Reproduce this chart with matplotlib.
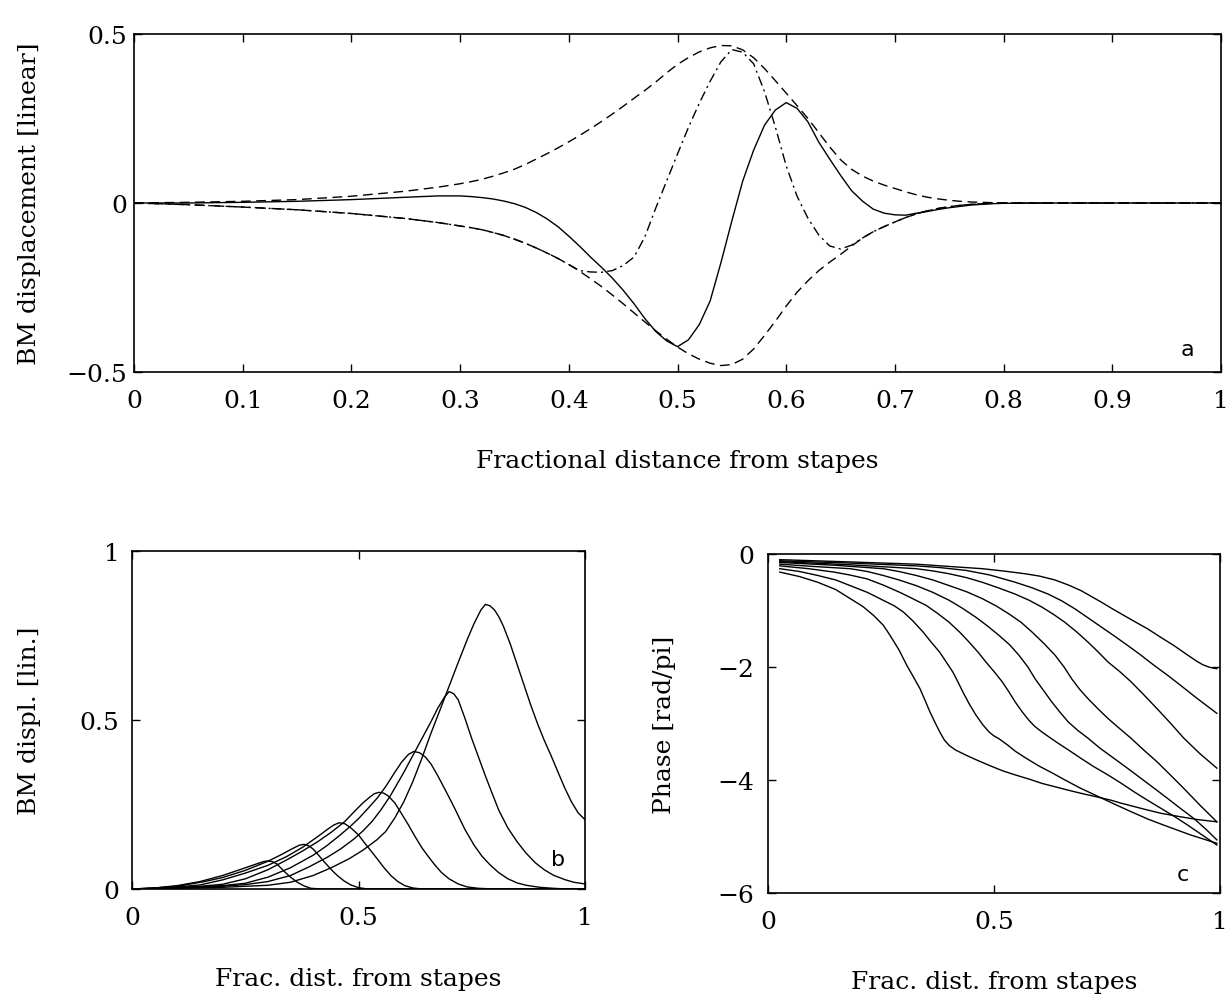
"""Basilar membrane displacement and phase, three-panel figure."""

import matplotlib
matplotlib.use("Agg")
import matplotlib.pyplot as plt

# ---------------- panel a: displacement snapshot -----------------
a_x = [0, 0.05, 0.1, 0.15, 0.2, 0.25, 0.28,
       0.3, 0.31, 0.32, 0.33, 0.34, 0.35, 0.36, 0.37, 0.38, 0.39,
       0.4, 0.41, 0.42, 0.43, 0.44, 0.45, 0.46, 0.47, 0.48, 0.49,
       0.5, 0.51, 0.52, 0.53, 0.54, 0.55, 0.56, 0.57, 0.58, 0.59,
       0.6, 0.61, 0.62, 0.63, 0.64, 0.65, 0.66, 0.67, 0.68, 0.69,
       0.7, 0.71, 0.72, 0.73, 0.74, 0.75, 0.76, 0.77, 0.78, 0.79,
       0.8, 0.85, 0.9, 1.0]
a_env_up = [0, 0.002, 0.005, 0.01, 0.02, 0.035, 0.047,
            0.057, 0.063, 0.07, 0.079, 0.089, 0.1, 0.114, 0.13, 0.146, 0.163,
            0.181, 0.2, 0.22, 0.241, 0.263, 0.286, 0.31, 0.333, 0.358, 0.385,
            0.41, 0.43, 0.447, 0.459, 0.466, 0.465, 0.453, 0.43, 0.398, 0.362,
            0.325, 0.288, 0.25, 0.208, 0.166, 0.128, 0.1, 0.08, 0.065, 0.053,
            0.043, 0.033, 0.024, 0.017, 0.012, 0.008, 0.005, 0.003, 0.002, 0.001,
            0, 0, 0, 0]
a_env_low = [0, -0.005, -0.012, -0.02, -0.031, -0.046, -0.058,
             -0.068, -0.073, -0.079, -0.087, -0.096, -0.107, -0.119, -0.133, -0.148, -0.164,
             -0.182, -0.202, -0.224, -0.247, -0.272, -0.298, -0.325, -0.352, -0.378, -0.403,
             -0.426, -0.446, -0.462, -0.474, -0.481, -0.478, -0.462, -0.432, -0.392, -0.35,
             -0.305, -0.264, -0.23, -0.2, -0.175, -0.152, -0.128, -0.104, -0.085, -0.07,
             -0.056, -0.043, -0.032, -0.023, -0.016, -0.011, -0.007, -0.004, -0.002, -0.001,
             0, 0, 0, 0]
a_solid = [0, 0.0, 0.002, 0.005, 0.01, 0.017, 0.021,
           0.021, 0.019, 0.016, 0.012, 0.006, -0.002, -0.013, -0.028, -0.047, -0.07,
           -0.098, -0.128, -0.16, -0.19, -0.222, -0.258, -0.298, -0.342, -0.38, -0.408,
           -0.425, -0.405, -0.36, -0.29, -0.176, -0.053, 0.065, 0.156, 0.23, 0.275,
           0.297, 0.28, 0.24, 0.18, 0.13, 0.082, 0.037, 0.006, -0.018, -0.03,
           -0.035, -0.036, -0.03, -0.025, -0.019, -0.014, -0.01, -0.006, -0.004, -0.002,
           -0.001, 0, 0, 0]
a_dashdot = [0, -0.005, -0.012, -0.02, -0.031, -0.046, -0.058,
             -0.068, -0.073, -0.079, -0.087, -0.096, -0.107, -0.119, -0.133, -0.148, -0.164,
             -0.182, -0.2, -0.204, -0.205, -0.2, -0.185, -0.16, -0.1, -0.015, 0.065,
             0.145, 0.223, 0.295, 0.36, 0.418, 0.454, 0.446, 0.412, 0.33, 0.225,
             0.11, 0.02, -0.045, -0.095, -0.127, -0.136, -0.125, -0.104, -0.085, -0.07,
             -0.056, -0.043, -0.032, -0.023, -0.016, -0.011, -0.007, -0.004, -0.002, -0.001,
             0, 0, 0, 0]

a_xticks = [0, 0.1, 0.2, 0.3, 0.4, 0.5, 0.6, 0.7, 0.8, 0.9, 1]
a_xticklabels = ["0", "0.1", "0.2", "0.3", "0.4", "0.5", "0.6", "0.7", "0.8", "0.9", "1"]
a_yticks = [-0.5, 0, 0.5]
a_yticklabels = ["\u22120.5", "0", "0.5"]

# ---------------- panel b: amplitude envelopes -----------------
b_x1 = [0, 0.1, 0.2, 0.25, 0.3, 0.35, 0.4, 0.44, 0.48, 0.51, 0.54, 0.56, 0.58,
        0.6, 0.62, 0.64, 0.66, 0.68, 0.7, 0.72, 0.74, 0.755, 0.77, 0.78, 0.79,
        0.8, 0.81, 0.82, 0.835, 0.85, 0.865, 0.88, 0.895, 0.91, 0.925, 0.94,
        0.955, 0.97, 0.985, 1.0]
b_y1 = [0, 0.002, 0.005, 0.008, 0.011, 0.02, 0.04, 0.063, 0.09, 0.115, 0.145,
        0.17, 0.21, 0.258, 0.318, 0.387, 0.461, 0.53, 0.6, 0.67, 0.738, 0.785,
        0.825, 0.842, 0.838, 0.826, 0.805, 0.777, 0.725, 0.665, 0.605, 0.545,
        0.49, 0.44, 0.395, 0.347, 0.3, 0.258, 0.225, 0.205]
b_x2 = [0, 0.1, 0.2, 0.25, 0.3, 0.35, 0.39, 0.43, 0.46, 0.49, 0.51, 0.53, 0.55,
        0.57, 0.585, 0.6, 0.62, 0.64, 0.66, 0.675, 0.69, 0.7, 0.71, 0.72, 0.735,
        0.75, 0.765, 0.78, 0.795, 0.81, 0.83, 0.85, 0.87, 0.89, 0.91, 0.93,
        0.955, 0.975, 1.0]
b_y2 = [0, 0.003, 0.008, 0.013, 0.022, 0.04, 0.065, 0.093, 0.118, 0.148, 0.172,
        0.2, 0.235, 0.275, 0.31, 0.345, 0.395, 0.445, 0.495, 0.535, 0.568, 0.584,
        0.578, 0.56, 0.505, 0.445, 0.39, 0.335, 0.283, 0.232, 0.18, 0.14, 0.106,
        0.078, 0.057, 0.041, 0.028, 0.02, 0.015]
b_x3 = [0, 0.1, 0.2, 0.25, 0.3, 0.35, 0.4, 0.43, 0.457, 0.48, 0.5, 0.52, 0.542,
        0.56, 0.58, 0.595, 0.61, 0.622, 0.635, 0.648, 0.66, 0.675, 0.69, 0.71,
        0.735, 0.755, 0.772, 0.79, 0.809, 0.83, 0.85, 0.87, 0.9, 0.93, 0.96, 1.0]
b_y3 = [0, 0.003, 0.01, 0.017, 0.035, 0.063, 0.1, 0.128, 0.157, 0.183, 0.208,
        0.237, 0.27, 0.303, 0.345, 0.375, 0.398, 0.407, 0.403, 0.39, 0.37, 0.335,
        0.297, 0.245, 0.176, 0.13, 0.098, 0.072, 0.049, 0.03, 0.018, 0.011,
        0.005, 0.002, 0, 0]
b_x4 = [0, 0.1, 0.15, 0.2, 0.25, 0.3, 0.34, 0.376, 0.41, 0.44, 0.47, 0.49, 0.51,
        0.525, 0.535, 0.545, 0.555, 0.565, 0.58, 0.594, 0.61, 0.624, 0.64, 0.653,
        0.668, 0.683, 0.7, 0.72, 0.74, 0.765, 0.8, 1.0]
b_y4 = [0, 0.004, 0.008, 0.014, 0.03, 0.057, 0.085, 0.112, 0.14, 0.168, 0.2,
        0.228, 0.255, 0.272, 0.282, 0.286, 0.284, 0.276, 0.255, 0.225, 0.19,
        0.157, 0.122, 0.098, 0.072, 0.049, 0.03, 0.015, 0.006, 0.002, 0, 0]
b_x5 = [0, 0.05, 0.1, 0.15, 0.2, 0.25, 0.3, 0.34, 0.376, 0.41, 0.43, 0.445,
        0.457, 0.47, 0.483, 0.5, 0.513, 0.528, 0.542, 0.557, 0.572, 0.587, 0.602,
        0.62, 0.64, 1.0]
b_y5 = [0, 0.002, 0.006, 0.012, 0.027, 0.047, 0.07, 0.095, 0.123, 0.155, 0.175,
        0.189, 0.196, 0.193, 0.181, 0.16, 0.137, 0.112, 0.088, 0.062, 0.039,
        0.022, 0.01, 0.003, 0, 0]
b_x6 = [0, 0.05, 0.1, 0.16, 0.2, 0.25, 0.3, 0.33, 0.355, 0.37, 0.38, 0.39, 0.4,
        0.41, 0.42, 0.432, 0.443, 0.454, 0.468, 0.483, 0.5, 0.52, 1.0]
b_y6 = [0, 0.003, 0.008, 0.022, 0.034, 0.055, 0.082, 0.102, 0.12, 0.13, 0.132,
        0.128, 0.118, 0.103, 0.087, 0.069, 0.053, 0.039, 0.024, 0.012, 0.004, 0, 0]
b_x7 = [0, 0.05, 0.1, 0.15, 0.2, 0.24, 0.27, 0.29, 0.3, 0.31, 0.32, 0.336, 0.35,
        0.365, 0.38, 0.395, 0.42, 1.0]
b_y7 = [0, 0.003, 0.01, 0.022, 0.04, 0.058, 0.072, 0.081, 0.083, 0.081, 0.074,
        0.052, 0.035, 0.02, 0.009, 0.002, 0, 0]

b_ticks = [0, 0.5, 1]
b_ticklabels = ["0", "0.5", "1"]

# ---------------- panel c: phase -----------------
c_x1 = [0.026, 0.07, 0.11, 0.15, 0.182, 0.21, 0.234, 0.255, 0.27, 0.29, 0.307,
        0.322, 0.336, 0.348, 0.358, 0.37, 0.38, 0.39, 0.401, 0.415, 0.438, 0.46,
        0.489, 0.52, 0.547, 0.58, 0.606, 0.64, 0.664, 0.7, 0.723, 0.76, 0.781,
        0.81, 0.839, 0.87, 0.912, 0.95, 0.993]
c_y1 = [-0.32, -0.4, -0.5, -0.63, -0.79, -0.93, -1.09, -1.26, -1.44, -1.7, -1.97,
        -2.18, -2.38, -2.6, -2.79, -2.99, -3.15, -3.29, -3.39, -3.47, -3.56, -3.64,
        -3.74, -3.84, -3.91, -3.99, -4.06, -4.13, -4.18, -4.25, -4.29, -4.36, -4.41,
        -4.47, -4.53, -4.59, -4.65, -4.7, -4.74]
c_x2 = [0.026, 0.07, 0.11, 0.15, 0.182, 0.22, 0.255, 0.28, 0.3, 0.32, 0.343,
        0.36, 0.38, 0.395, 0.409, 0.42, 0.431, 0.445, 0.46, 0.475, 0.489, 0.5,
        0.511, 0.53, 0.547, 0.57, 0.599, 0.63, 0.657, 0.69, 0.73, 0.77, 0.803,
        0.84, 0.876, 0.934, 0.993]
c_y2 = [-0.26, -0.31, -0.38, -0.46, -0.56, -0.68, -0.82, -0.92, -1.03, -1.18,
        -1.38, -1.55, -1.74, -1.92, -2.09, -2.26, -2.44, -2.65, -2.85, -3.02,
        -3.15, -3.22, -3.27, -3.38, -3.49, -3.61, -3.75, -3.88, -4.0, -4.14,
        -4.29, -4.44, -4.56, -4.69, -4.8, -4.97, -5.12]
c_x3 = [0.026, 0.09, 0.146, 0.18, 0.219, 0.255, 0.292, 0.32, 0.35, 0.375, 0.401,
        0.425, 0.445, 0.465, 0.482, 0.5, 0.518, 0.533, 0.547, 0.562, 0.577, 0.59,
        0.606, 0.622, 0.642, 0.665, 0.693, 0.72, 0.752, 0.78, 0.81, 0.84, 0.869,
        0.9, 0.927, 0.96, 0.993]
c_y3 = [-0.21, -0.26, -0.32, -0.37, -0.44, -0.55, -0.68, -0.79, -0.91, -1.05,
        -1.21, -1.39, -1.56, -1.74, -1.91, -2.08, -2.26, -2.44, -2.62, -2.79,
        -2.94, -3.05, -3.15, -3.24, -3.35, -3.47, -3.62, -3.76, -3.91, -4.05,
        -4.21, -4.36, -4.5, -4.65, -4.79, -4.97, -5.15]
c_x4 = [0.026, 0.1, 0.182, 0.22, 0.255, 0.29, 0.328, 0.365, 0.401, 0.43, 0.46,
        0.485, 0.511, 0.535, 0.555, 0.575, 0.591, 0.61, 0.628, 0.646, 0.664,
        0.685, 0.708, 0.735, 0.766, 0.795, 0.825, 0.855, 0.883, 0.912, 0.942,
        0.97, 0.993]
c_y4 = [-0.18, -0.22, -0.26, -0.31, -0.38, -0.46, -0.56, -0.68, -0.82, -0.96,
        -1.12, -1.27, -1.44, -1.61, -1.79, -2.0, -2.21, -2.42, -2.62, -2.8,
        -2.97, -3.12, -3.26, -3.44, -3.62, -3.79, -3.97, -4.15, -4.32, -4.5,
        -4.68, -4.88, -5.06]
c_x5 = [0.026, 0.15, 0.255, 0.29, 0.328, 0.365, 0.401, 0.44, 0.474, 0.505,
        0.533, 0.56, 0.584, 0.61, 0.635, 0.655, 0.672, 0.69, 0.708, 0.73, 0.752,
        0.778, 0.803, 0.83, 0.861, 0.89, 0.92, 0.955, 0.993]
c_y5 = [-0.15, -0.2, -0.26, -0.31, -0.38, -0.46, -0.56, -0.67, -0.79, -0.92,
        -1.06, -1.21, -1.38, -1.58, -1.79, -2.0, -2.21, -2.4, -2.56, -2.74,
        -2.91, -3.09, -3.26, -3.46, -3.68, -3.91, -4.15, -4.44, -4.74]
c_x6 = [0.026, 0.18, 0.328, 0.365, 0.401, 0.44, 0.474, 0.51, 0.547, 0.578,
        0.606, 0.632, 0.657, 0.683, 0.708, 0.73, 0.752, 0.778, 0.803, 0.83,
        0.861, 0.89, 0.92, 0.955, 0.993]
c_y6 = [-0.135, -0.19, -0.26, -0.3, -0.35, -0.42, -0.5, -0.6, -0.71, -0.82,
        -0.94, -1.07, -1.21, -1.38, -1.56, -1.73, -1.91, -2.08, -2.26, -2.48,
        -2.74, -2.99, -3.26, -3.53, -3.79]
c_x7 = [0.026, 0.18, 0.328, 0.38, 0.438, 0.49, 0.547, 0.585, 0.62, 0.65, 0.679,
        0.708, 0.737, 0.766, 0.796, 0.825, 0.854, 0.883, 0.912, 0.95, 0.993]
c_y7 = [-0.12, -0.16, -0.21, -0.24, -0.29, -0.37, -0.5, -0.6, -0.71, -0.83,
        -0.97, -1.13, -1.29, -1.45, -1.62, -1.79, -1.97, -2.14, -2.32, -2.56,
        -2.82]
c_x8 = [0.026, 0.18, 0.328, 0.4, 0.474, 0.52, 0.569, 0.6, 0.635, 0.665, 0.693,
        0.715, 0.737, 0.762, 0.788, 0.812, 0.839, 0.868, 0.898, 0.925, 0.949,
        0.962, 0.975, 0.985, 0.993]
c_y8 = [-0.1, -0.14, -0.18, -0.22, -0.26, -0.3, -0.35, -0.39, -0.46, -0.55,
        -0.65, -0.75, -0.85, -0.97, -1.09, -1.2, -1.32, -1.47, -1.62, -1.77,
        -1.9, -1.96, -2.0, -2.02, -2.03]

c_xticks = [0, 0.5, 1]
c_xticklabels = ["0", "0.5", "1"]
c_yticks = [-6, -4, -2, 0]
c_yticklabels = ["\u22126", "\u22124", "\u22122", "0"]

W, H = 1231, 995
FONT = "DejaVu Serif"
FS = 18
LW = 1.0


def px_axes(fig, left, top, right, bottom):
    return fig.add_axes([left / W, 1 - bottom / H, (right - left) / W, (bottom - top) / H])


def style_axes(ax, xpad=12, ypad=5):
    ax.tick_params(axis="y", direction="in", left=True, right=True, length=6,
                   width=1, labelsize=FS, pad=ypad)
    ax.tick_params(axis="x", direction="in", top=True, bottom=True, length=6,
                   width=1, labelsize=FS, pad=xpad)
    for s in ax.spines.values():
        s.set_linewidth(1.2)
    for lab in ax.get_xticklabels() + ax.get_yticklabels():
        lab.set_family(FONT)


def place_labels(ax, xlabel, ylabel, xy, yx):
    ax.set_xlabel(xlabel, fontsize=FS, family=FONT)
    ax.set_ylabel(ylabel, fontsize=FS, family=FONT)
    ax.xaxis.set_label_coords(0.5, xy)
    ax.yaxis.set_label_coords(yx, 0.5)
    ax.xaxis.label.set_va("center")
    ax.yaxis.label.set_va("center")


plt.rcParams["lines.scale_dashes"] = False
fig = plt.figure(figsize=(W / 100, H / 100), dpi=100)

# panel a
ax_a = px_axes(fig, 134, 35, 1221, 373)
ax_a.plot(a_x, a_env_up, color="black", lw=LW, ls=(0, (7, 4)))
ax_a.plot(a_x, a_env_low, color="black", lw=LW, ls=(0, (7, 4)))
ax_a.plot(a_x, a_dashdot, color="black", lw=LW, ls=(0, (7, 3, 1.5, 3)))
ax_a.plot(a_x, a_solid, color="black", lw=LW)
ax_a.set_xlim(0, 1)
ax_a.set_ylim(-0.5, 0.5)
ax_a.set_xticks(a_xticks)
ax_a.set_xticklabels(a_xticklabels)
ax_a.set_yticks(a_yticks)
ax_a.set_yticklabels(a_yticklabels)
style_axes(ax_a)
place_labels(ax_a, "Fractional distance from stapes", "BM displacement [linear]",
             -0.263, -0.096)
ax_a.text(0.969, -0.432, "a", fontsize=16, ha="center", va="center")

# panel b
ax_b = px_axes(fig, 132, 552, 585, 890)
for bx, by in [(b_x1, b_y1), (b_x2, b_y2), (b_x3, b_y3), (b_x4, b_y4),
               (b_x5, b_y5), (b_x6, b_y6), (b_x7, b_y7)]:
    ax_b.plot(bx, by, color="black", lw=LW)
ax_b.set_xlim(0, 1)
ax_b.set_ylim(0, 1)
ax_b.set_xticks(b_ticks)
ax_b.set_xticklabels(b_ticklabels)
ax_b.set_yticks(b_ticks)
ax_b.set_yticklabels(b_ticklabels)
style_axes(ax_b, ypad=9)
place_labels(ax_b, "Frac. dist. from stapes", "BM displ. [lin.]", -0.266, -0.227)
ax_b.text(0.94, 0.089, "b", fontsize=16, ha="center", va="center")

# panel c
ax_c = px_axes(fig, 768, 555, 1220, 894)
for cx, cy in [(c_x1, c_y1), (c_x2, c_y2), (c_x3, c_y3), (c_x4, c_y4),
               (c_x5, c_y5), (c_x6, c_y6), (c_x7, c_y7), (c_x8, c_y8)]:
    ax_c.plot(cx, cy, color="black", lw=LW)
ax_c.set_xlim(0, 1)
ax_c.set_ylim(-6, 0)
ax_c.set_xticks(c_xticks)
ax_c.set_xticklabels(c_xticklabels)
ax_c.set_yticks(c_yticks)
ax_c.set_yticklabels(c_yticklabels)
style_axes(ax_c, ypad=10)
place_labels(ax_c, "Frac. dist. from stapes", "Phase [rad/pi]", -0.26, -0.23)
ax_c.text(0.918, -5.66, "c", fontsize=16, ha="center", va="center")

fig.savefig("out.png", dpi=100, facecolor="white")
